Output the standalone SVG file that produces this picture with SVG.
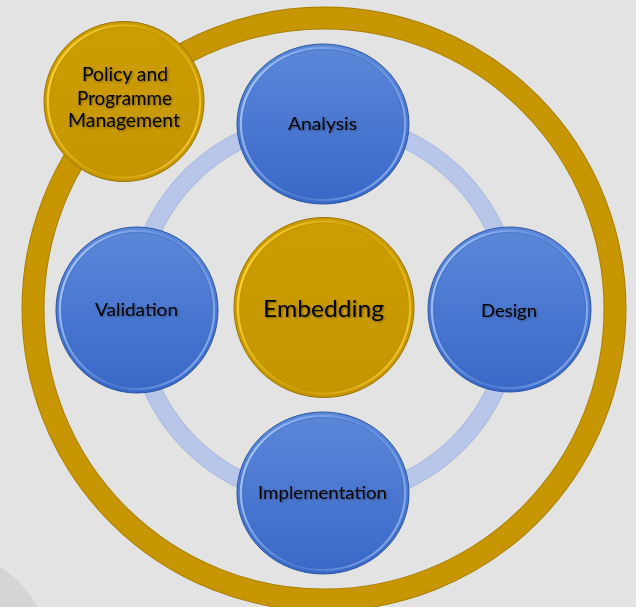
<svg xmlns="http://www.w3.org/2000/svg" width="636" height="607" viewBox="0 0 636 607">
<defs>
  <linearGradient id="blueFace" x1="0" y1="0" x2="0" y2="1">
    <stop offset="0" stop-color="#5c88d9"/>
    <stop offset="1" stop-color="#3868c8"/>
  </linearGradient>
  <linearGradient id="blueRim" x1="0" y1="0.3" x2="1" y2="0.7">
    <stop offset="0" stop-color="#a9c8fb" stop-opacity="0.95"/>
    <stop offset="0.55" stop-color="#7ea4ea" stop-opacity="0.25"/>
    <stop offset="1" stop-color="#9dbcf4" stop-opacity="0.75"/>
  </linearGradient>
  <linearGradient id="goldFace" x1="0" y1="0" x2="0" y2="1">
    <stop offset="0" stop-color="#cc9d00"/>
    <stop offset="1" stop-color="#c69600"/>
  </linearGradient>
  <linearGradient id="goldRim" x1="0" y1="0.3" x2="1" y2="0.7">
    <stop offset="0" stop-color="#ffd83a" stop-opacity="0.95"/>
    <stop offset="0.55" stop-color="#e4b410" stop-opacity="0.25"/>
    <stop offset="1" stop-color="#ffd235" stop-opacity="0.8"/>
  </linearGradient>
  <filter id="tshadow" x="-10%" y="-30%" width="120%" height="160%">
    <feGaussianBlur in="SourceAlpha" stdDeviation="1.2" result="b"/>
    <feOffset in="b" dx="0.5" dy="1" result="o"/>
    <feComponentTransfer in="o" result="s"><feFuncA type="linear" slope="0.4"/></feComponentTransfer>
    <feMerge><feMergeNode in="s"/><feMergeNode in="SourceGraphic"/></feMerge>
  </filter>
</defs>
<style>
  .blue .face { fill: url(#blueFace); stroke: #2e55a0; stroke-width: 1; }
  .blue .rim { fill: none; stroke: url(#blueRim); stroke-width: 2.5; }
  .blue .inner { fill: none; stroke: #3563b8; stroke-width: 1; stroke-opacity: 0.5; }
  .gold .face { fill: url(#goldFace); stroke: #9a7400; stroke-width: 1; }
  .gold .rim { fill: none; stroke: url(#goldRim); stroke-width: 2.5; }
  .gold .inner { fill: none; stroke: #b88a00; stroke-width: 1; stroke-opacity: 0.5; }
  text { font-family: "Lato", "Open Sans", "Liberation Sans", sans-serif; fill: #000; text-anchor: middle; filter: url(#tshadow); }
  .lbl { font-size: 18px; }
  .big { font-size: 24px; }
  .pol { font-size: 19px; }
</style>
<rect x="0" y="0" width="636" height="607" fill="#e3e3e3"/>
<circle cx="-60" cy="660" r="111" fill="#d5d5d8"/>

<g id="connectors">
  <circle cx="324" cy="309" r="291" fill="none" stroke="#a98000" stroke-width="23"/>
  <circle cx="324" cy="309" r="291" fill="none" stroke="#c89600" stroke-width="21"/>
  <circle cx="324" cy="310" r="189" fill="none" stroke="#aab9de" stroke-width="18"/>
  <circle cx="324" cy="310" r="189" fill="none" stroke="#b8c6ea" stroke-width="16"/>
</g>

<g id="embedding" class="gold">
  <circle class="face" cx="324" cy="307.5" r="90"/>
  <circle class="rim" cx="324" cy="307.5" r="86"/>
  <circle class="inner" cx="324" cy="307.5" r="84.5"/>
  <text class="big" x="323.5" y="317" textLength="121" lengthAdjust="spacingAndGlyphs">Embedding</text>
</g>

<g id="analysis" class="blue">
  <ellipse class="face" cx="323" cy="124" rx="86" ry="80"/>
  <ellipse class="rim" cx="323" cy="124" rx="82" ry="76"/>
  <ellipse class="inner" cx="323" cy="124" rx="80.5" ry="74.5"/>
  <text class="lbl" x="322.5" y="130" textLength="69" lengthAdjust="spacingAndGlyphs">Analysis</text>
</g>

<g id="design" class="blue">
  <ellipse class="face" cx="509.5" cy="309.5" rx="81.5" ry="82.5"/>
  <ellipse class="rim" cx="509.5" cy="309.5" rx="77.5" ry="78.5"/>
  <ellipse class="inner" cx="509.5" cy="309.5" rx="76" ry="77"/>
  <text class="lbl" x="509" y="317" textLength="56" lengthAdjust="spacingAndGlyphs">Design</text>
</g>

<g id="implementation" class="blue">
  <ellipse class="face" cx="323" cy="493" rx="86" ry="81"/>
  <ellipse class="rim" cx="323" cy="493" rx="82" ry="77"/>
  <ellipse class="inner" cx="323" cy="493" rx="80.5" ry="75.5"/>
  <text class="lbl" x="322.5" y="499" textLength="129" lengthAdjust="spacingAndGlyphs">Implementation</text>
</g>

<g id="validation" class="blue">
  <ellipse class="face" cx="137" cy="310" rx="81" ry="83"/>
  <ellipse class="rim" cx="137" cy="310" rx="77" ry="79"/>
  <ellipse class="inner" cx="137" cy="310" rx="75.5" ry="77.5"/>
  <text class="lbl" x="136.5" y="316" textLength="83" lengthAdjust="spacingAndGlyphs">Validation</text>
</g>

<g id="policy" class="gold">
  <circle class="face" cx="124" cy="101.5" r="80"/>
  <circle class="rim" cx="124" cy="101.5" r="76"/>
  <circle class="inner" cx="124" cy="101.5" r="74.5"/>
  <text class="pol" x="125" y="81" textLength="86" lengthAdjust="spacingAndGlyphs">Policy and</text>
  <text class="pol" x="124.5" y="105" textLength="95" lengthAdjust="spacingAndGlyphs">Programme</text>
  <text class="pol" x="124" y="127" textLength="112" lengthAdjust="spacingAndGlyphs">Management</text>
</g>
</svg>
